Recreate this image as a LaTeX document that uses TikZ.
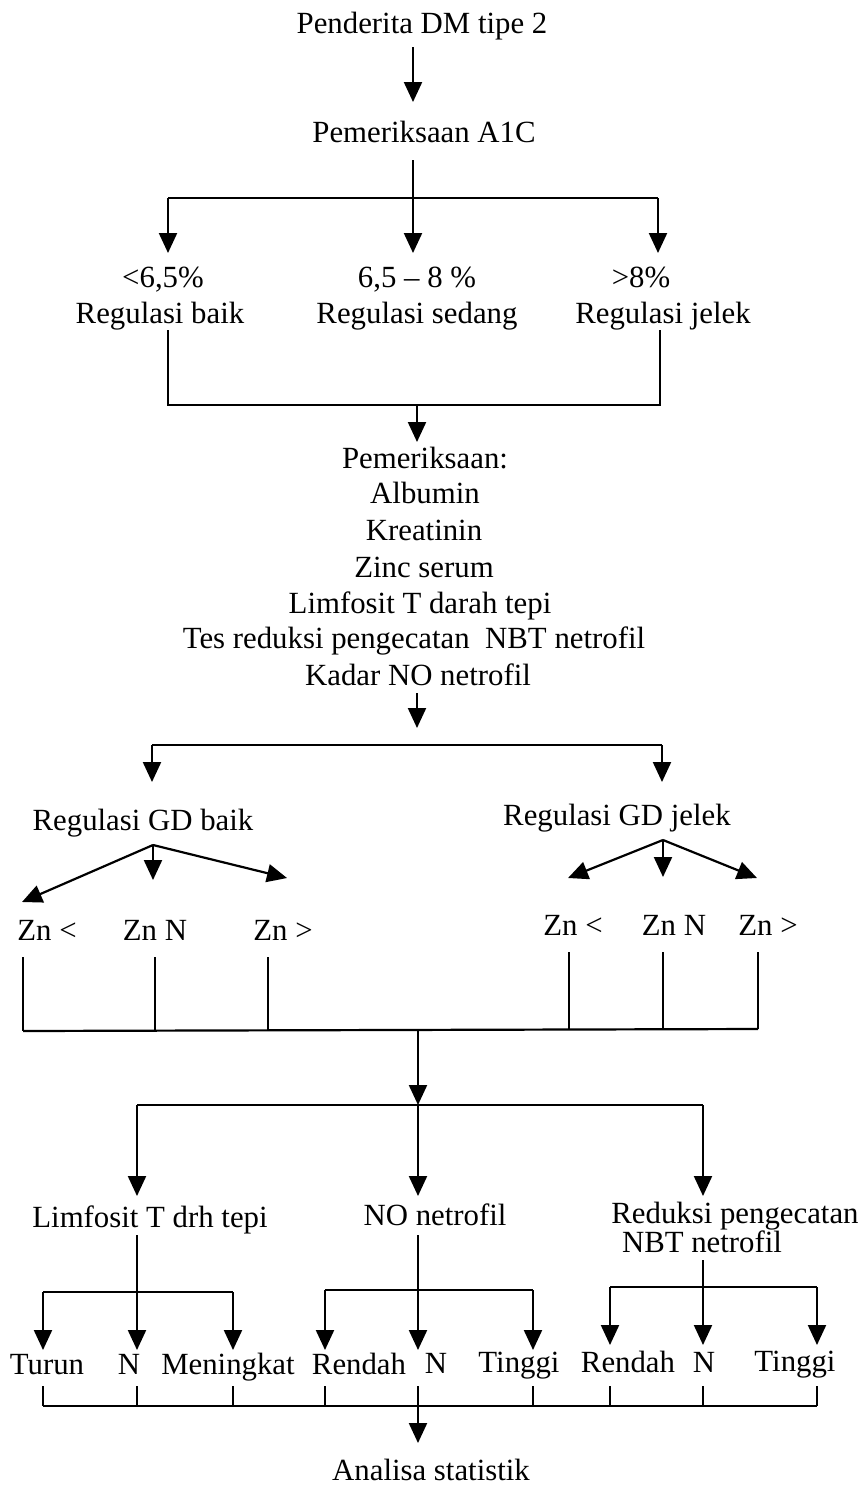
\documentclass[tikz,border=0pt]{standalone}
\usepackage{fontspec}
\setmainfont{Liberation Serif}
\usetikzlibrary{arrows.meta}
\begin{document}
\begin{tikzpicture}[x=1pt,y=-1pt,
  lbl/.style={inner sep=0pt,anchor=base,font=\fontsize{30.8}{36}\selectfont},
  ln/.style={line width=2.2pt},
  arr/.style={line width=2.2pt,-{Triangle[length=20pt,width=18pt]}}]
\useasboundingbox (0,0) rectangle (862,1486);
% top
\node[lbl] (n1) at (422,33) {Penderita DM tipe 2};
\node[lbl] (n2) at (424,142) {Pemeriksaan A1C};
\coordinate (t1) at (413,47);
\coordinate (t1e) at (413,102);
\draw[arr] (t1) -- (t1e);
% level 1
\coordinate (s1) at (413,160);
\coordinate (b1m) at (413,198);
\coordinate (b1l) at (168,198);
\coordinate (b1r) at (658,198);
\draw[ln] (s1) -- (b1m);
\draw[ln] (b1l) -- (b1r);
\coordinate (a1l) at (168,253);
\coordinate (a1m) at (413,253);
\coordinate (a1r) at (658,253);
\draw[arr] (b1l) -- (a1l);
\draw[arr] (b1m) -- (a1m);
\draw[arr] (b1r) -- (a1r);
\node[lbl] (p1) at (163,287) {<6,5\%};
\node[lbl] (p2) at (417,287) {6,5 – 8 \%};
\node[lbl] (p3) at (641,287) {>8\%};
\node[lbl] (r1) at (160,323) {Regulasi baik};
\node[lbl] (r2) at (417,323) {Regulasi sedang};
\node[lbl] (r3) at (663,323) {Regulasi jelek};
\coordinate (v1t) at (168,330);
\coordinate (v1b) at (168,405);
\coordinate (v3t) at (660,330);
\coordinate (v3b) at (660,405);
\draw[ln] (v1t) -- (v1b) -- (v3b) -- (v3t);
\coordinate (c2) at (417,405);
\coordinate (c2e) at (417,442);
\draw[arr] (c2) -- (c2e);
% list
\node[lbl] (m0) at (425,468) {Pemeriksaan:};
\node[lbl] (m1) at (425,503) {Albumin};
\node[lbl] (m2) at (424,540) {Kreatinin};
\node[lbl] (m3) at (424,577) {Zinc serum};
\node[lbl] (m4) at (420,613) {Limfosit T darah tepi};
\node[lbl] (m5) at (414,648) {Tes reduksi pengecatan\ \ NBT netrofil};
\node[lbl] (m6) at (418,685) {Kadar NO netrofil};
\coordinate (c3) at (417,693);
\coordinate (c3e) at (417,728);
\draw[arr] (c3) -- (c3e);
% level GD
\coordinate (b2l) at (152,745);
\coordinate (b2r) at (662,745);
\draw[ln] (b2l) -- (b2r);
\coordinate (a2l) at (152,782);
\coordinate (a2r) at (662,782);
\draw[arr] (b2l) -- (a2l);
\draw[arr] (b2r) -- (a2r);
\node[lbl] (g1) at (143,830) {Regulasi GD baik};
\node[lbl] (g2) at (617,825) {Regulasi GD jelek};
% fans
\coordinate (f1) at (153,845);
\coordinate (f1a) at (22,902);
\coordinate (f1b) at (153,880);
\coordinate (f1c) at (287,878);
\draw[arr] (f1) -- (f1a);
\draw[arr] (f1) -- (f1b);
\draw[arr] (f1) -- (f1c);
\coordinate (f2) at (663,840);
\coordinate (f2a) at (568,878);
\coordinate (f2b) at (663,877);
\coordinate (f2c) at (757,878);
\draw[arr] (f2) -- (f2a);
\draw[arr] (f2) -- (f2b);
\draw[arr] (f2) -- (f2c);
% Zn labels
\node[lbl] (z1) at (47,940) {Zn <};
\node[lbl] (z2) at (155,940) {Zn N};
\node[lbl] (z3) at (283,940) {Zn >};
\node[lbl] (z4) at (573,935) {Zn <};
\node[lbl] (z5) at (674,935) {Zn N};
\node[lbl] (z6) at (768,935) {Zn >};
% Zn collect
\coordinate (k1) at (23,957);   \coordinate (k1b) at (23,1031);
\coordinate (k2) at (155,957);  \coordinate (k2b) at (155,1031);
\coordinate (k3) at (268,957);  \coordinate (k3b) at (268,1031);
\coordinate (k4) at (569,952);  \coordinate (k4b) at (569,1029);
\coordinate (k5) at (663,952);  \coordinate (k5b) at (663,1029);
\coordinate (k6) at (758,952);  \coordinate (k6b) at (758,1029);
\draw[ln] (k1) -- (k1b);
\draw[ln] (k2) -- (k2b);
\draw[ln] (k3) -- (k3b);
\draw[ln] (k4) -- (k4b);
\draw[ln] (k5) -- (k5b);
\draw[ln] (k6) -- (k6b);
\draw[ln] (k1b) -- (k6b);
\coordinate (c4) at (418,1030);
\coordinate (c4e) at (418,1105);
\draw[arr] (c4) -- (c4e);
% level 3
\coordinate (b3l) at (137,1105);
\coordinate (b3m) at (418,1105);
\coordinate (b3r) at (703,1105);
\draw[ln] (b3l) -- (b3r);
\coordinate (a3l) at (137,1196);
\coordinate (a3m) at (418,1196);
\coordinate (a3r) at (703,1196);
\draw[arr] (b3l) -- (a3l);
\draw[arr] (b3m) -- (a3m);
\draw[arr] (b3r) -- (a3r);
\node[lbl] (h1) at (150,1227) {Limfosit T drh tepi};
\node[lbl] (h2) at (435,1225) {NO netrofil};
\node[lbl] (h3) at (735,1223) {Reduksi pengecatan};
\node[lbl] (h3b) at (702,1252) {NBT netrofil};
% sub branches
\coordinate (d1) at (137,1235);
\coordinate (d1e) at (137,1350);
\draw[arr] (d1) -- (d1e);
\coordinate (e1l) at (43,1292);
\coordinate (e1r) at (233,1292);
\draw[ln] (e1l) -- (e1r);
\coordinate (e1le) at (43,1350);
\coordinate (e1re) at (233,1350);
\draw[arr] (e1l) -- (e1le);
\draw[arr] (e1r) -- (e1re);
\coordinate (d2) at (418,1235);
\coordinate (d2e) at (418,1350);
\draw[arr] (d2) -- (d2e);
\coordinate (e2l) at (325,1290);
\coordinate (e2r) at (533,1290);
\draw[ln] (e2l) -- (e2r);
\coordinate (e2le) at (325,1350);
\coordinate (e2re) at (533,1350);
\draw[arr] (e2l) -- (e2le);
\draw[arr] (e2r) -- (e2re);
\coordinate (d3) at (703,1260);
\coordinate (d3e) at (703,1345);
\draw[arr] (d3) -- (d3e);
\coordinate (e3l) at (610,1287);
\coordinate (e3r) at (817,1287);
\draw[ln] (e3l) -- (e3r);
\coordinate (e3le) at (610,1345);
\coordinate (e3re) at (817,1345);
\draw[arr] (e3l) -- (e3le);
\draw[arr] (e3r) -- (e3re);
% bottom labels
\node[lbl] (o1) at (47,1374) {Turun};
\node[lbl] (o2) at (129,1374) {N};
\node[lbl] (o3) at (228,1374) {Meningkat};
\node[lbl] (o4) at (359,1374) {Rendah};
\node[lbl] (o5) at (436,1373) {N};
\node[lbl] (o6) at (519,1372) {Tinggi};
\node[lbl] (o7) at (628,1372) {Rendah};
\node[lbl] (o8) at (704,1372) {N};
\node[lbl] (o9) at (795,1371) {Tinggi};
% bottom ticks
\foreach \x [count=\i] in {43,137,233,325,533,610,703,817}{
  \coordinate (q\i) at (\x,1386);
  \coordinate (qb\i) at (\x,1406);
  \draw[ln] (q\i) -- (qb\i);
}
\draw[ln] (qb1) -- (qb8);
\coordinate (c5) at (418,1386);
\coordinate (c5e) at (418,1443);
\draw[arr] (c5) -- (c5e);
\node[lbl] (fin) at (431,1480) {Analisa statistik};
\end{tikzpicture}
\end{document}
